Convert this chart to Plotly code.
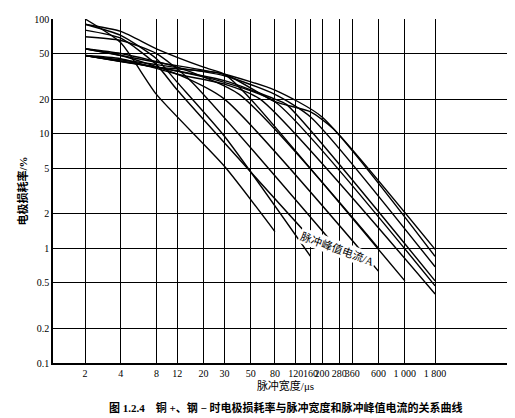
import plotly.graph_objects as go

# pulse width (us) / wear rate (%) points for each peak current (A)
currents = ["2", "4", "6", "10", "13", "16", "20", "30", "40", "50", "80", "100", "200"]
widths = [
    [2, 4, 8, 30, 80],
    [2, 4, 8, 12, 30, 160],
    [2, 4, 8, 12, 200],
    [2, 4, 8, 15, 280],
    [2, 4, 12, 30, 600],
    [2, 4, 12, 40, 600],
    [2, 4, 8, 20, 30, 50, 1000],
    [2, 4, 12, 30, 60, 1800],
    [2, 8, 30, 80, 1800],
    [2, 8, 30, 80, 100, 1800],
    [2, 8, 30, 80, 160, 1800],
    [2, 8, 30, 80, 200, 1800],
    [2, 8, 30, 80, 160, 250, 1800],
]
wear = [
    [100, 62, 22, 5.2, 1.4],
    [90, 72, 45, 28, 9.5, 0.85],
    [80, 68, 40, 24, 0.95],
    [70, 65, 50, 30, 0.95],
    [55, 48, 33, 20, 0.63],
    [55, 50, 38, 22, 1.0],
    [90, 78, 55, 38, 33, 20, 0.52],
    [48, 45, 33, 27, 20, 0.4],
    [48, 38, 28, 19, 0.47],
    [48, 38, 29, 20, 18, 0.52],
    [48, 40, 32, 22, 14, 0.69],
    [55, 42, 33, 24, 14, 0.85],
    [48, 38, 33, 19, 15.5, 11, 0.98],
]
# end labels: text, x, y
label_text = ["2", "4", "6", "10", "16", "13", "20", "200", "100", "80", "50", "40", "30"]
label_x = [84, 170, 215, 300, 650, 650, 1050, 1850, 1850, 1850, 1850, 1850, 1850]
label_y = [1.15, 0.68, 0.75, 0.75, 0.8, 0.57, 0.47, 1.02, 0.87, 0.68, 0.52, 0.45, 0.35]

xticks = [2, 4, 8, 12, 20, 30, 50, 80, 120, 160, 200, 280, 360, 600, 1000, 1800]
xtick_text = ["2", "4", "8", "12", "20", "30", "50", "80", "120", "160", "200", "280", "360", "600", "1 000", "1 800"]
yticks = [0.1, 0.2, 0.5, 1, 2, 5, 10, 20, 50, 100]

fig = go.Figure()
for name, xs, ys in zip(currents, widths, wear):
    fig.add_trace(go.Scatter(x=xs, y=ys, mode="lines", name=name,
                             line=dict(color="black", width=1.4, shape="spline", smoothing=0.6),
                             showlegend=False))

for t, lx, ly in zip(label_text, label_x, label_y):
    fig.add_annotation(x=lx, y=ly, xref="x", yref="y", text=t, showarrow=False,
                       xanchor="left", font=dict(size=11))
fig.add_annotation(x=0.7, y=0.27, xref="paper", yref="paper", text="脉冲峰值电流/A",
                   showarrow=False, textangle=20, font=dict(size=11),
                   bgcolor="white")
fig.add_annotation(x=0.5, y=-0.155, xref="paper", yref="paper",
                   text="<b>图 1.2.4　铜 +、钢 − 时电极损耗率与脉冲宽度和脉冲峰值电流的关系曲线</b>",
                   showarrow=False, font=dict(size=11))

axis_common = dict(type="log", showgrid=True, gridcolor="black", gridwidth=1.3,
                   linecolor="black", linewidth=1.5, ticks="", zeroline=False,
                   tickfont=dict(size=10))
fig.update_xaxes(range=[0.03, 3.955], tickvals=xticks, ticktext=xtick_text, tickangle=0,
                 title=dict(text="脉冲宽度/μs", standoff=2, font=dict(size=11)), **axis_common)
fig.update_yaxes(range=[-1, 2], tickvals=yticks, ticktext=[str(v) for v in yticks],
                 title=dict(text="<b>电极损耗率/%</b>", standoff=4, font=dict(size=11)), **axis_common)
fig.update_layout(width=515, height=418, plot_bgcolor="white", paper_bgcolor="white",
                  margin=dict(l=45, r=5, t=7, b=63),
                  font=dict(family="Liberation Serif, Noto Sans CJK SC", size=11, color="black"))
fig.write_html("out.html")
